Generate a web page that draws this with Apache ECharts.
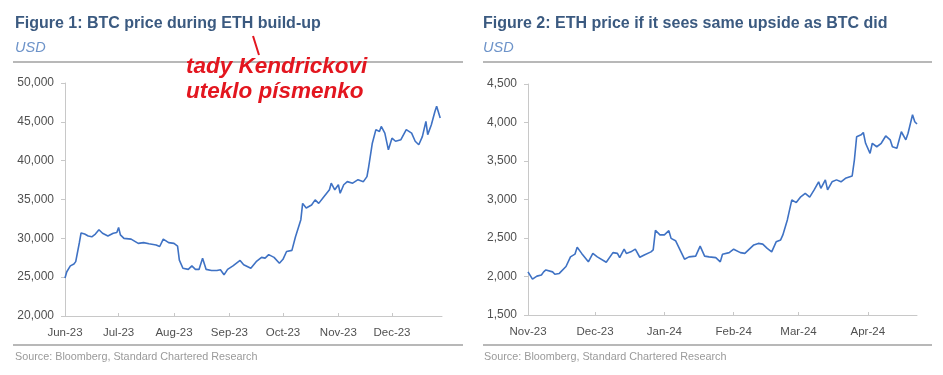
<!DOCTYPE html>
<html><head><meta charset="utf-8">
<script src="https://cdn.jsdelivr.net/npm/echarts@6/dist/echarts.min.js"></script>
<style>html,body{margin:0;padding:0;background:#fff}#c{width:943px;height:375px}</style>
</head><body><div id="c"></div>
<script>
// ---- Figure 1: BTC price (USD) ----
const btcDates = ['2023-06-15','2023-06-16','2023-06-18','2023-06-20','2023-06-21','2023-06-23','2023-06-24','2023-06-26','2023-06-28','2023-06-30',
'2023-07-02','2023-07-04','2023-07-06','2023-07-09','2023-07-12','2023-07-14','2023-07-15','2023-07-16','2023-07-18','2023-07-22','2023-07-26','2023-07-29',
'2023-08-01','2023-08-05','2023-08-07','2023-08-09','2023-08-12','2023-08-15','2023-08-17','2023-08-18','2023-08-20','2023-08-23','2023-08-25','2023-08-27','2023-08-29','2023-08-31',
'2023-09-02','2023-09-05','2023-09-08','2023-09-10','2023-09-12','2023-09-14','2023-09-17','2023-09-21','2023-09-23','2023-09-27','2023-09-30',
'2023-10-03','2023-10-05','2023-10-07','2023-10-10','2023-10-13','2023-10-15','2023-10-17','2023-10-20','2023-10-22','2023-10-25','2023-10-26','2023-10-28','2023-10-31',
'2023-11-02','2023-11-04','2023-11-07','2023-11-10','2023-11-11','2023-11-13','2023-11-15','2023-11-16','2023-11-18','2023-11-20','2023-11-23','2023-11-26','2023-11-29',
'2023-12-01','2023-12-02','2023-12-04','2023-12-06','2023-12-08','2023-12-09','2023-12-11','2023-12-13','2023-12-15','2023-12-17','2023-12-20','2023-12-23','2023-12-26','2023-12-28','2023-12-30',
'2024-01-01','2024-01-03','2024-01-04','2024-01-06','2024-01-08','2024-01-09','2024-01-11'];
const btcValues = [24900,25700,26450,26700,27000,29400,30700,30550,30300,30200,
30550,31100,30650,30300,30650,30750,31400,30450,30000,29900,29350,29450,
29300,29150,28950,29900,29450,29350,29000,27200,26150,26000,26450,26000,26000,27450,
26000,25850,25850,25950,25300,26000,26450,27150,26600,26150,27000,
27550,27450,27900,27550,26800,27300,28300,28450,30200,32400,34500,33900,34300,
34950,34500,35400,36250,37100,36250,36900,35800,36900,37300,37100,37550,37300,
37950,39250,42250,44000,43750,44400,43550,41400,42900,42500,42700,44000,43550,42500,42050,
43100,45050,43350,44600,46300,47000,45500];
const btcTickDates = ['2023-06-15','2023-07-15','2023-08-15','2023-09-15','2023-10-15','2023-11-15','2023-12-15'];
const btcTickLabels = ['Jun-23','Jul-23','Aug-23','Sep-23','Oct-23','Nov-23','Dec-23'];
const btcRange = ['2023-06-15','2024-01-12'];

// ---- Figure 2: ETH price (USD) ----
const ethDates = ['2023-11-15','2023-11-17','2023-11-19','2023-11-21','2023-11-22','2023-11-23','2023-11-26','2023-11-27','2023-11-29',
'2023-12-02','2023-12-04','2023-12-06','2023-12-07','2023-12-09','2023-12-12','2023-12-14','2023-12-16','2023-12-20','2023-12-23','2023-12-25','2023-12-26','2023-12-28','2023-12-29','2023-12-31',
'2024-01-02','2024-01-04','2024-01-06','2024-01-09','2024-01-10','2024-01-11','2024-01-13','2024-01-15','2024-01-17','2024-01-18','2024-01-20','2024-01-22','2024-01-24','2024-01-26','2024-01-29','2024-01-31',
'2024-02-02','2024-02-04','2024-02-07','2024-02-09','2024-02-10','2024-02-13','2024-02-15','2024-02-18','2024-02-20','2024-02-24','2024-02-26','2024-02-28',
'2024-03-01','2024-03-03','2024-03-05','2024-03-07','2024-03-08','2024-03-10','2024-03-12','2024-03-14','2024-03-16','2024-03-18','2024-03-20','2024-03-22','2024-03-24','2024-03-25','2024-03-27','2024-03-28','2024-03-30',
'2024-04-01','2024-04-03','2024-04-05','2024-04-08','2024-04-09','2024-04-10','2024-04-12','2024-04-13','2024-04-14','2024-04-16','2024-04-17','2024-04-19','2024-04-21','2024-04-23','2024-04-25','2024-04-26','2024-04-28','2024-04-30',
'2024-05-02','2024-05-03','2024-05-05','2024-05-06','2024-05-07'];
const ethValues = [2060,1965,2005,2020,2060,2085,2060,2030,2040,
2130,2255,2290,2380,2300,2190,2300,2255,2185,2310,2300,2245,2355,2300,2320,
2355,2250,2280,2320,2345,2600,2540,2540,2595,2495,2465,2345,2225,2255,2265,2395,
2265,2255,2245,2190,2290,2310,2355,2310,2300,2410,2430,2420,
2365,2320,2450,2475,2540,2735,2995,2960,3035,3080,3030,3125,3230,3145,3255,3125,3230,
3255,3230,3275,3305,3515,3815,3840,3870,3730,3600,3730,3685,3730,3825,3775,3685,3665,3880,
3775,3860,4100,4010,3980];
const ethTickDates = ['2023-11-15','2023-12-15','2024-01-15','2024-02-15','2024-03-15','2024-04-15'];
const ethTickLabels = ['Nov-23','Dec-23','Jan-24','Feb-24','Mar-24','Apr-24'];
const ethRange = ['2023-11-15','2024-05-07'];

function ts(s){const p=s.split('-').map(Number);return Date.UTC(p[0],p[1]-1,p[2]);}
function pairs(d,v){return d.map((x,i)=>[ts(x),v[i]]);}

const FONT='"Liberation Sans", Arial, sans-serif';
const AXC='#c8c8c8';
function xAxisFor(gi,range,tickDates,tickLabels){
  const tv=tickDates.map(ts);
  return {type:'value',gridIndex:gi,min:ts(range[0]),max:ts(range[1]),
    axisLine:{show:true,lineStyle:{color:AXC,width:1}},
    axisTick:{show:true,inside:true,length:3,lineStyle:{color:AXC},customValues:tv},
    axisLabel:{show:true,customValues:tv,color:'#505050',fontSize:11.5,fontFamily:FONT,margin:11,
      formatter:function(v){const i=tv.indexOf(v);return i>=0?tickLabels[i]:'';}},
    splitLine:{show:false},minorTick:{show:false}};
}
function yAxisFor(gi,min,max,interval){
  return {type:'value',gridIndex:gi,min:min,max:max,interval:interval,
    axisLine:{show:true,lineStyle:{color:AXC,width:1}},
    axisTick:{show:true,length:4,lineStyle:{color:AXC}},
    axisLabel:{color:'#505050',fontSize:12,fontFamily:FONT,margin:11,
      formatter:function(v){return v.toLocaleString('en-US');}},
    splitLine:{show:false}};
}
const LINE_COLOR='#3f72c4';
const chart=echarts.init(document.getElementById('c'),null,{renderer:'canvas'});
const titleStyle={fill:'#3b5a80',font:'bold 16px '+FONT};
const usdStyle={fill:'#6d93c9',font:'italic 14.5px '+FONT};
const srcStyle={fill:'#9a9a9a',font:'10.8px '+FONT};
const ruleStyle={stroke:'#a0a0a0',lineWidth:1.6};
const RED='#e3161f';
chart.setOption({
  animation:false,
  backgroundColor:'#fff',
  grid:[{left:65,top:83,width:377,height:233,containLabel:false},
        {left:528,top:84,width:389,height:231,containLabel:false}],
  xAxis:[xAxisFor(0,btcRange,btcTickDates,btcTickLabels),xAxisFor(1,ethRange,ethTickDates,ethTickLabels)],
  yAxis:[yAxisFor(0,20000,50000,5000),yAxisFor(1,1500,4500,500)],
  series:[
    {type:'line',xAxisIndex:0,yAxisIndex:0,data:pairs(btcDates,btcValues),showSymbol:false,symbol:'none',
     lineStyle:{color:LINE_COLOR,width:1.6},smooth:false},
    {type:'line',xAxisIndex:1,yAxisIndex:1,data:pairs(ethDates,ethValues),showSymbol:false,symbol:'none',
     lineStyle:{color:LINE_COLOR,width:1.6},smooth:false}
  ],
  graphic:[
    {type:'text',left:15,top:16,style:Object.assign({text:'Figure 1: BTC price during ETH build-up'},titleStyle)},
    {type:'text',left:15,top:40,style:Object.assign({text:'USD'},usdStyle)},
    {type:'line',shape:{x1:13,y1:62,x2:463,y2:62},style:ruleStyle},
    {type:'line',shape:{x1:13,y1:345,x2:463,y2:345},style:ruleStyle},
    {type:'text',left:15,top:352,style:Object.assign({text:'Source: Bloomberg, Standard Chartered Research'},srcStyle)},
    {type:'text',left:483,top:16,style:Object.assign({text:'Figure 2: ETH price if it sees same upside as BTC did'},titleStyle)},
    {type:'text',left:483,top:40,style:Object.assign({text:'USD'},usdStyle)},
    {type:'line',shape:{x1:483,y1:62,x2:932,y2:62},style:ruleStyle},
    {type:'line',shape:{x1:483,y1:345,x2:932,y2:345},style:ruleStyle},
    {type:'text',left:484,top:352,style:Object.assign({text:'Source: Bloomberg, Standard Chartered Research'},srcStyle)},
    {type:'line',shape:{x1:253,y1:36,x2:259,y2:55},style:{stroke:RED,lineWidth:2}},
    {type:'text',left:186,top:55,style:{text:'tady Kendrickovi',fill:RED,font:'italic bold 22.5px '+FONT}},
    {type:'text',left:186,top:80,style:{text:'uteklo písmenko',fill:RED,font:'italic bold 22.5px '+FONT}}
  ]
});
</script></body></html>
